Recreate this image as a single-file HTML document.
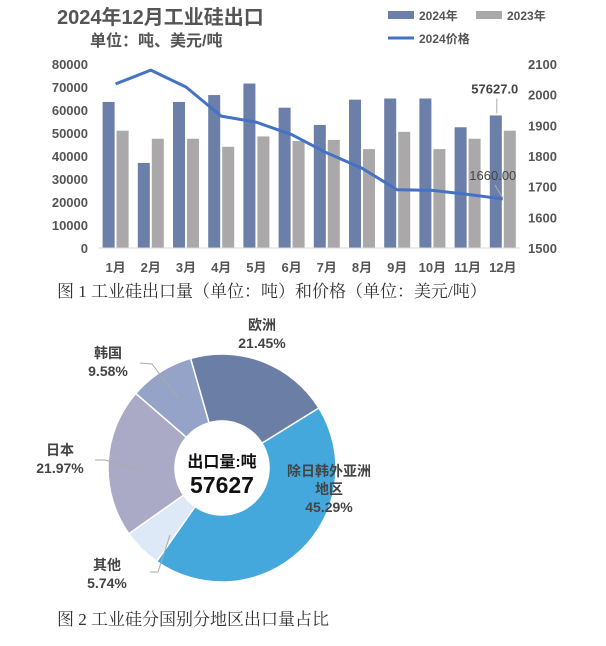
<!DOCTYPE html>
<html><head><meta charset="utf-8"><style>
body{margin:0;background:#fff;width:606px;height:646px;overflow:hidden;font-family:"Liberation Sans","Noto Sans CJK SC",sans-serif}
svg{display:block}
</style></head><body>
<svg id="c" width="606" height="646">
<text x="57" y="24" font-size="20" font-weight="bold" fill="#555">2024年12月工业硅出口</text>
<text x="90" y="46" font-size="16" font-weight="bold" fill="#555">单位：吨、美元/吨</text>
<g>
<rect x="388" y="11" width="26" height="8" fill="#6b7fa8"/>
<text x="419" y="20" font-size="12" font-weight="bold" fill="#555">2024年</text>
<rect x="476" y="11" width="26" height="8" fill="#aaa8a8"/>
<text x="507" y="20" font-size="12" font-weight="bold" fill="#555">2023年</text>
<line x1="388" y1="38" x2="414" y2="38" stroke="#4472c4" stroke-width="3"/>
<text x="419" y="43" font-size="12" font-weight="bold" fill="#555">2024价格</text>
</g>
<g id="bars"></g>
<text x="57" y="297" font-size="17" fill="#333" font-family="Liberation Serif,'Noto Serif CJK SC',serif">图 1  工业硅出口量（单位：吨）和价格（单位：美元/吨）</text>
<g id="pie"></g>
<text x="57" y="625" font-size="17" fill="#333" font-family="Liberation Serif,'Noto Serif CJK SC',serif">图 2  工业硅分国别分地区出口量占比</text>
</svg>
<script>
const months=["1月","2月","3月","4月","5月","6月","7月","8月","9月","10月","11月","12月"];
const vol2024=[63500,37000,63500,66500,71500,61000,53500,64500,65000,65000,52500,57627];
const vol2023=[51000,47500,47500,44000,48500,46500,47000,43000,50500,43000,47500,51000];
const price2024=[2035,2080,2025,1930,1910,1870,1810,1760,1690,1688,1675,1660];
const leftTicks=[0,10000,20000,30000,40000,50000,60000,70000,80000];
const rightTicks=[1500,1600,1700,1800,1900,2000,2100];
const pieLabels=["欧洲","除日韩外亚洲地区","其他","日本","韩国"];
const pieValues=[21.45,45.29,5.74,21.97,9.58];
const pieColors=["#6b7fa6","#44a8dd","#dde9f6","#aaa9c6","#94a3c7"];

const NS="http://www.w3.org/2000/svg";
function mk(t,a,p,txt){const e=document.createElementNS(NS,t);for(const k in a)e.setAttribute(k,a[k]);if(txt!=null)e.textContent=txt;p.appendChild(e);return e;}
const g=document.getElementById('bars');
const y0=248,y1=64,x0=98,step=35.2;
const yL=v=>y0-(v/80000)*(y0-y1);
const yR=v=>y0-((v-1500)/600)*(y0-y1);
const xC=i=>x0+step*(i+0.5);
leftTicks.forEach(t=>{const e=mk('text',{x:88,y:yL(t)+5,'text-anchor':'end','font-size':13,'font-weight':'bold',fill:'#555'},g,t);

});
rightTicks.forEach(t=>{const e=mk('text',{x:528,y:yR(t)+5,'font-size':13,'font-weight':'bold',fill:'#555'},g,t);

});
months.forEach((m,i)=>{
const b=mk('rect',{x:xC(i)-13,y:yL(vol2024[i]),width:12,height:y0-yL(vol2024[i]),fill:'#6b7fa8'},g);


const c=mk('rect',{x:xC(i)+1,y:yL(vol2023[i]),width:12,height:y0-yL(vol2023[i]),fill:'#aaa8a8'},g);


const t=mk('text',{x:xC(i),y:272,'text-anchor':'middle','font-size':13,'font-weight':'bold',fill:'#555'},g,m);


});
const ax=mk('line',{x1:x0,y1:y0,x2:x0+step*12,y2:y0,stroke:'#d9d9d9','stroke-width':1},g);


const pl=mk('polyline',{points:price2024.map((v,i)=>xC(i)+','+yR(v)).join(' '),fill:'none',stroke:'#4472c4','stroke-width':3,'stroke-linejoin':'round'},g);


const li=11;
const l1=mk('line',{x1:xC(li)-6,y1:yL(vol2024[li])-2,x2:xC(li)-6,y2:yL(vol2024[li])-17,stroke:'#aaa'},g);


const d1=mk('text',{x:xC(li)-8,y:yL(vol2024[li])-22,'text-anchor':'middle','font-size':13,'font-weight':'bold',fill:'#444'},g,vol2024[li].toFixed(1));


const l2=mk('line',{x1:xC(li),y1:yR(price2024[li])-1,x2:xC(li)-8,y2:yR(price2024[li])-14,stroke:'#aaa'},g);


const d2=mk('text',{x:xC(li)-10,y:yR(price2024[li])-19,'text-anchor':'middle','font-size':13,fill:'#444'},g,price2024[li].toFixed(2));



// pie
const p=document.getElementById('pie');
const cx=222,cy=468,R=114,r=47;
let a=-16*Math.PI/180;const tot=pieValues.reduce((s,v)=>s+v,0);
const pt=(ang,rad)=>[cx+rad*Math.sin(ang),cy-rad*Math.cos(ang)];
pieValues.forEach((v,i)=>{
const a2=a+v/tot*2*Math.PI;const lg=(a2-a)>Math.PI?1:0;
const [x1,y1_]=pt(a,R),[x2,y2]=pt(a2,R),[x3,y3]=pt(a2,r),[x4,y4]=pt(a,r);
const s=mk('path',{d:`M${x1},${y1_}A${R},${R} 0 ${lg} 1 ${x2},${y2}L${x3},${y3}A${r},${r} 0 ${lg} 0 ${x4},${y4}Z`,fill:pieColors[i],stroke:'#fff','stroke-width':1.5},p);


a=a2;});
const labs=[[262,330,[pieLabels[0]],pieValues[0]],[329,476,["除日韩外亚洲","地区"],pieValues[1]],[107,570,[pieLabels[2]],pieValues[2]],[60,455,[pieLabels[3]],pieValues[3]],[108,358,[pieLabels[4]],pieValues[4]]];
labs.forEach(([x,y,ls,v])=>{let yy=y;ls.forEach(s=>{const t=mk('text',{x:x,y:yy,'text-anchor':'middle','font-size':14,'font-weight':'bold',fill:'#444'},p,s);


yy+=18;});
const t=mk('text',{x:x,y:yy,'text-anchor':'middle','font-size':14,'font-weight':'bold',fill:'#444'},p,v.toFixed(2)+'%');

});
[[[140,363],[152,364],[178,398]],[[95,460],[105,460],[140,470]],[[150,572],[158,572],[170,535]]].forEach(l=>{const e=mk('polyline',{points:l.map(q=>q.join(',')).join(' '),fill:'none',stroke:'#aaa'},p);

});
const c1=mk('text',{x:cx,y:467,'text-anchor':'middle','font-size':16,'font-weight':'bold',fill:'#111'},p,'出口量:吨');


const c2=mk('text',{x:cx,y:493,'text-anchor':'middle','font-size':23,'font-weight':'bold',fill:'#111'},p,'57627');


</script>
</body></html>
